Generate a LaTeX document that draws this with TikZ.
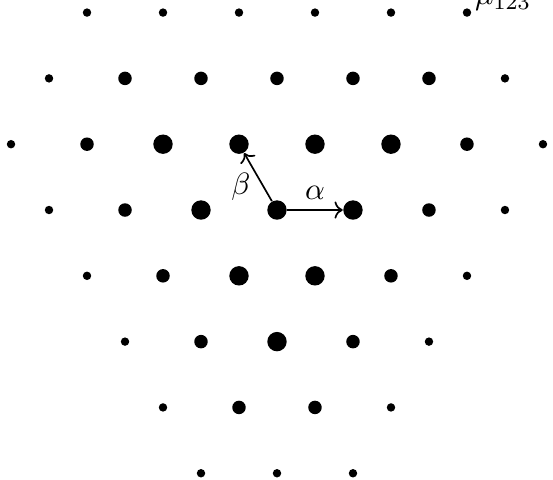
\documentclass[tikz,border=0pt]{standalone}
\usepackage{amsmath,amssymb}
\usepackage{tikz}
\usetikzlibrary{arrows.meta,positioning}

\begin{document}
\begin{tikzpicture}[
  x=0.95cm, y=0.8227cm,
  every node/.style={font=\fontsize{11}{13}\selectfont},
  peso/.style={circle,fill=black,inner sep=0pt},
  peso1/.style={peso,minimum size=3pt},
  peso2/.style={peso,minimum size=4.8pt},
  peso3/.style={peso,minimum size=6.9pt},
  raiz/.style={->,semithick}
]
\path[use as bounding box,clip] (-3.645,-4.102) rectangle (3.632,3.191);
% fila / primer x / multiplicidades
\foreach \r/\xs/\lista in {3/-2.5/{1,1,1,1,1,1},
                           2/-3/{1,2,2,2,2,2,1},
                           1/-3.5/{1,2,3,3,3,3,2,1},
                           0/-3/{1,2,3,3,3,2,1},
                           -1/-2.5/{1,2,3,3,2,1},
                           -2/-2/{1,2,3,2,1},
                           -3/-1.5/{1,2,2,1},
                           -4/-1/{1,1,1}} {
  \foreach \m [count=\c from 0] in \lista {
    \node[peso\m] (w\r-\c) at (\xs+\c, \r) {};
  }
}
\draw[raiz] (w0-3) -- node[above]{$\alpha$} (w0-4);
\draw[raiz] (w0-3) -- node[left=1pt,pos=0.3]{$\beta$} (w1-3);
\node[above right,inner sep=1pt,yshift=-0.5pt] at (w3-5.east) {$\mu_{123}$};
\end{tikzpicture}
\end{document}
